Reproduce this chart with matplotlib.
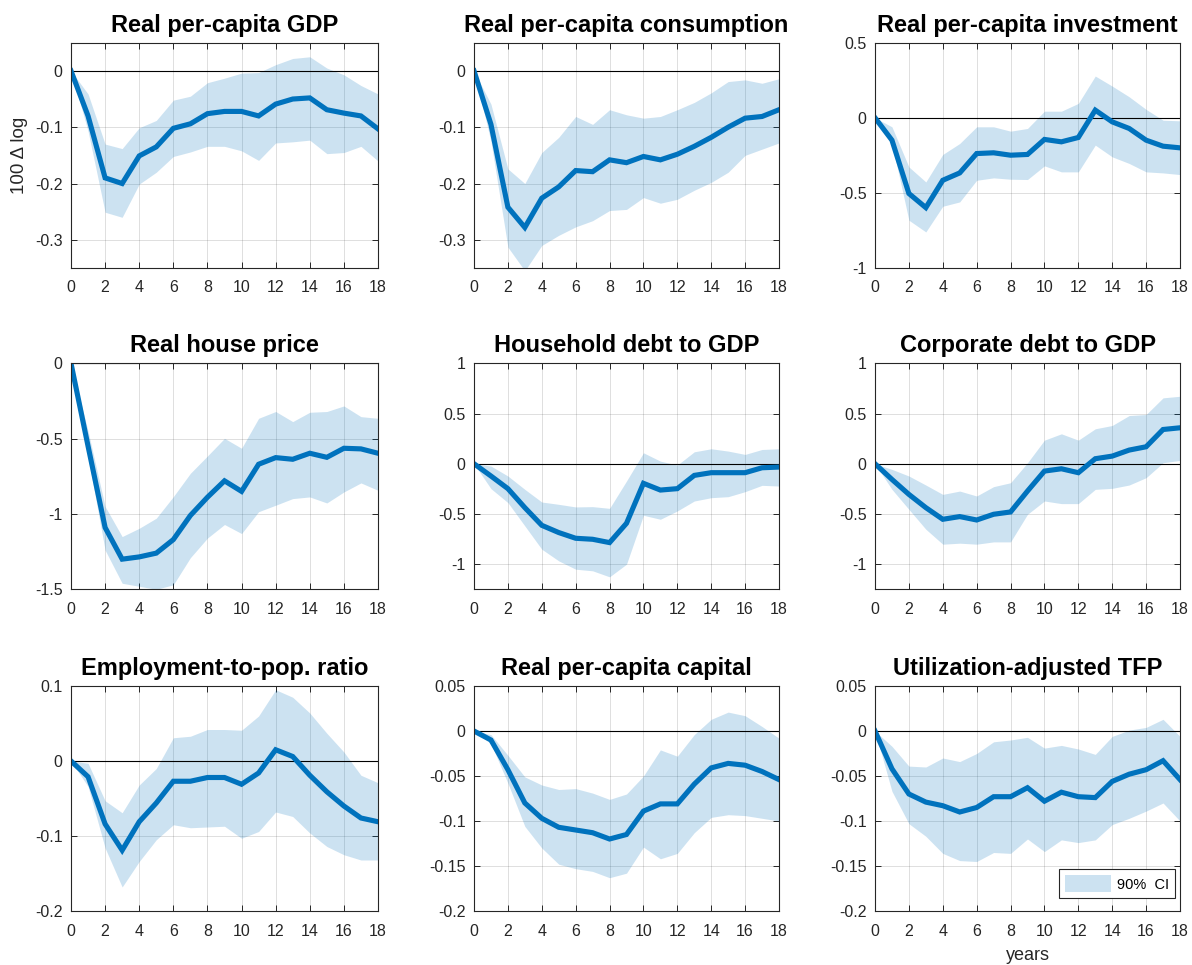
import matplotlib

matplotlib.use("Agg")

import matplotlib.pyplot as plt
from matplotlib.ticker import FuncFormatter

plt.rcParams["font.family"] = ["Liberation Sans", "DejaVu Sans"]
plt.rcParams["axes.unicode_minus"] = False

horizons = list(range(19))

gdp_irf = [0, -0.08, -0.19, -0.20, -0.151, -0.135, -0.102, -0.094, -0.076, -0.072, -0.072, -0.08, -0.059, -0.05, -0.048, -0.069, -0.075, -0.08, -0.103]
gdp_hi = [0, -0.041, -0.13, -0.138, -0.101, -0.088, -0.052, -0.045, -0.021, -0.013, -0.004, -0.003, 0.011, 0.022, 0.025, 0.005, -0.007, -0.026, -0.041]
gdp_lo = [0, -0.107, -0.251, -0.26, -0.201, -0.18, -0.152, -0.144, -0.134, -0.134, -0.142, -0.159, -0.128, -0.126, -0.123, -0.147, -0.145, -0.134, -0.16]

cons_irf = [0, -0.095, -0.242, -0.278, -0.226, -0.206, -0.177, -0.179, -0.158, -0.163, -0.152, -0.158, -0.148, -0.134, -0.118, -0.1, -0.084, -0.081, -0.069]
cons_hi = [0, -0.059, -0.174, -0.2, -0.145, -0.118, -0.081, -0.095, -0.069, -0.078, -0.084, -0.081, -0.069, -0.056, -0.039, -0.019, -0.016, -0.022, -0.014]
cons_lo = [0, -0.125, -0.313, -0.355, -0.31, -0.292, -0.277, -0.266, -0.248, -0.246, -0.225, -0.235, -0.228, -0.212, -0.198, -0.18, -0.15, -0.139, -0.128]

inv_irf = [0, -0.149, -0.504, -0.598, -0.416, -0.367, -0.238, -0.233, -0.249, -0.244, -0.144, -0.16, -0.131, 0.051, -0.027, -0.071, -0.149, -0.189, -0.2]
inv_hi = [0, -0.06, -0.327, -0.427, -0.244, -0.171, -0.06, -0.06, -0.089, -0.071, 0.044, 0.044, 0.096, 0.278, 0.211, 0.14, 0.056, -0.016, -0.02]
inv_lo = [0, -0.17, -0.682, -0.76, -0.589, -0.56, -0.416, -0.4, -0.409, -0.411, -0.32, -0.36, -0.36, -0.182, -0.26, -0.304, -0.36, -0.367, -0.378]

house_irf = [0, -0.55, -1.09, -1.30, -1.285, -1.26, -1.17, -1.01, -0.889, -0.78, -0.85, -0.67, -0.626, -0.637, -0.597, -0.624, -0.564, -0.568, -0.597]
house_hi = [0, -0.45, -0.95, -1.15, -1.095, -1.028, -0.885, -0.73, -0.615, -0.498, -0.564, -0.365, -0.32, -0.387, -0.325, -0.32, -0.283, -0.354, -0.365]
house_lo = [0, -0.62, -1.24, -1.46, -1.48, -1.5, -1.47, -1.29, -1.16, -1.07, -1.13, -0.985, -0.942, -0.898, -0.887, -0.927, -0.854, -0.794, -0.843]

hh_irf = [0, -0.122, -0.248, -0.437, -0.613, -0.685, -0.742, -0.752, -0.785, -0.593, -0.195, -0.262, -0.248, -0.116, -0.089, -0.089, -0.089, -0.04, -0.033]
hh_hi = [0, -0.023, -0.122, -0.255, -0.381, -0.404, -0.43, -0.427, -0.444, -0.172, 0.109, 0.026, -0.013, 0.119, 0.149, 0.126, 0.093, 0.142, 0.149]
hh_lo = [0, -0.248, -0.387, -0.619, -0.851, -0.967, -1.05, -1.066, -1.126, -1.0, -0.513, -0.553, -0.47, -0.371, -0.338, -0.328, -0.278, -0.215, -0.222]

corp_irf = [0, -0.156, -0.305, -0.437, -0.553, -0.526, -0.56, -0.503, -0.48, -0.272, -0.073, -0.05, -0.089, 0.05, 0.076, 0.136, 0.169, 0.341, 0.358]
corp_hi = [0, -0.056, -0.122, -0.212, -0.305, -0.272, -0.321, -0.228, -0.189, 0.01, 0.235, 0.298, 0.235, 0.348, 0.381, 0.48, 0.49, 0.656, 0.672]
corp_lo = [0, -0.255, -0.454, -0.652, -0.801, -0.791, -0.801, -0.778, -0.778, -0.503, -0.371, -0.397, -0.397, -0.255, -0.245, -0.212, -0.139, 0.01, 0.033]

emp_irf = [0, -0.021, -0.084, -0.119, -0.081, -0.056, -0.027, -0.027, -0.022, -0.022, -0.031, -0.016, 0.015, 0.006, -0.019, -0.041, -0.06, -0.076, -0.081]
emp_hi = [0, -0.003, -0.053, -0.069, -0.032, -0.01, 0.031, 0.033, 0.042, 0.042, 0.041, 0.06, 0.095, 0.085, 0.064, 0.037, 0.012, -0.019, -0.029]
emp_lo = [0, -0.034, -0.116, -0.168, -0.134, -0.105, -0.085, -0.089, -0.088, -0.087, -0.103, -0.094, -0.068, -0.074, -0.096, -0.114, -0.125, -0.132, -0.132]

cap_irf = [0, -0.01, -0.043, -0.08, -0.097, -0.107, -0.11, -0.113, -0.12, -0.115, -0.089, -0.081, -0.081, -0.059, -0.041, -0.036, -0.038, -0.045, -0.054]
cap_hi = [0, -0.004, -0.027, -0.051, -0.06, -0.065, -0.064, -0.069, -0.076, -0.07, -0.05, -0.021, -0.028, -0.004, 0.013, 0.021, 0.017, 0.005, -0.008]
cap_lo = [0, -0.014, -0.058, -0.106, -0.13, -0.148, -0.153, -0.156, -0.163, -0.158, -0.129, -0.142, -0.136, -0.113, -0.096, -0.093, -0.094, -0.097, -0.1]

tfp_irf = [0, -0.042, -0.07, -0.079, -0.083, -0.09, -0.085, -0.073, -0.073, -0.063, -0.078, -0.068, -0.073, -0.074, -0.056, -0.048, -0.043, -0.033, -0.054]
tfp_hi = [0, -0.017, -0.039, -0.04, -0.03, -0.034, -0.025, -0.012, -0.01, -0.007, -0.019, -0.016, -0.02, -0.026, -0.006, 0.001, 0.004, 0.013, -0.006]
tfp_lo = [0, -0.067, -0.103, -0.117, -0.136, -0.144, -0.145, -0.135, -0.136, -0.12, -0.134, -0.121, -0.124, -0.121, -0.104, -0.097, -0.089, -0.08, -0.1]

titles = [
    "Real per-capita GDP", "Real per-capita consumption", "Real per-capita investment",
    "Real house price", "Household debt to GDP", "Corporate debt to GDP",
    "Employment-to-pop. ratio", "Real per-capita capital", "Utilization-adjusted TFP",
]
panels = [
    (gdp_irf, gdp_lo, gdp_hi), (cons_irf, cons_lo, cons_hi), (inv_irf, inv_lo, inv_hi),
    (house_irf, house_lo, house_hi), (hh_irf, hh_lo, hh_hi), (corp_irf, corp_lo, corp_hi),
    (emp_irf, emp_lo, emp_hi), (cap_irf, cap_lo, cap_hi), (tfp_irf, tfp_lo, tfp_hi),
]
y_limits = [
    (-0.35, 0.05), (-0.35, 0.05), (-1, 0.5),
    (-1.5, 0), (-1.25, 1), (-1.25, 1),
    (-0.2, 0.1), (-0.2, 0.05), (-0.2, 0.05),
]
y_ticks = [
    [-0.3, -0.2, -0.1, 0], [-0.3, -0.2, -0.1, 0], [-1, -0.5, 0, 0.5],
    [-1.5, -1, -0.5, 0], [-1, -0.5, 0, 0.5, 1], [-1, -0.5, 0, 0.5, 1],
    [-0.2, -0.1, 0, 0.1], [-0.2, -0.15, -0.1, -0.05, 0, 0.05], [-0.2, -0.15, -0.1, -0.05, 0, 0.05],
]

LINE_BLUE = "#0072BD"
INK = "#262626"

W, H = 1192, 965
col_left = [71, 474, 875]
col_width = [307, 305, 305]
row_top = [42.7, 363.3, 686]
row_height = [225.3, 226, 225]


def fmt(v, _pos):
    v = round(v, 4)
    if v == 0:
        return "0"
    return f"{v:g}"


fig = plt.figure(figsize=(W / 100, H / 100), dpi=100)

for i, (title, (irf, lo, hi)) in enumerate(zip(titles, panels)):
    r, c = divmod(i, 3)
    rect = [col_left[c] / W, 1 - (row_top[r] + row_height[r]) / H,
            col_width[c] / W, row_height[r] / H]
    ax = fig.add_axes(rect)
    ax.set_axisbelow(True)
    ax.grid(True, color=INK, alpha=0.15, linewidth=0.7)
    ax.fill_between(horizons, lo, hi, color=LINE_BLUE, alpha=0.2, linewidth=0,
                    label="90%  CI")
    ax.axhline(0, color="k", linewidth=0.8)
    ax.plot(horizons, irf, color=LINE_BLUE, linewidth=3.7, solid_joinstyle="miter")
    ax.set_xlim(0, 18)
    ax.set_ylim(*y_limits[i])
    ax.set_xticks(range(0, 19, 2))
    ax.set_yticks(y_ticks[i])
    ax.yaxis.set_major_formatter(FuncFormatter(fmt))
    ax.tick_params(direction="in", top=True, right=True, length=4, width=0.7,
                   colors=INK, labelsize=11.5)
    ax.tick_params(axis="x", pad=9)
    ax.tick_params(axis="y", pad=6)
    for spine in ax.spines.values():
        spine.set_color(INK)
        spine.set_linewidth(0.8)
    ax.set_title(title, fontsize=17, fontweight="bold", pad=8)
    if i == 0:
        ax.set_ylabel("100 \u0394 log", fontsize=13.5, color=INK, labelpad=5)
    if i == 8:
        ax.set_xlabel("years", fontsize=13, color=INK, labelpad=6)
        leg = ax.legend(loc="lower right", bbox_to_anchor=(0.984, 0.058), borderaxespad=0,
                        fontsize=10.5, handlelength=3.2, handleheight=1.4,
                        handletextpad=0.4, borderpad=0.4, fancybox=False, framealpha=1)
        leg.get_frame().set_edgecolor(INK)
        leg.get_frame().set_linewidth(0.8)

fig.savefig("out.png", dpi=100)
plt.close(fig)
